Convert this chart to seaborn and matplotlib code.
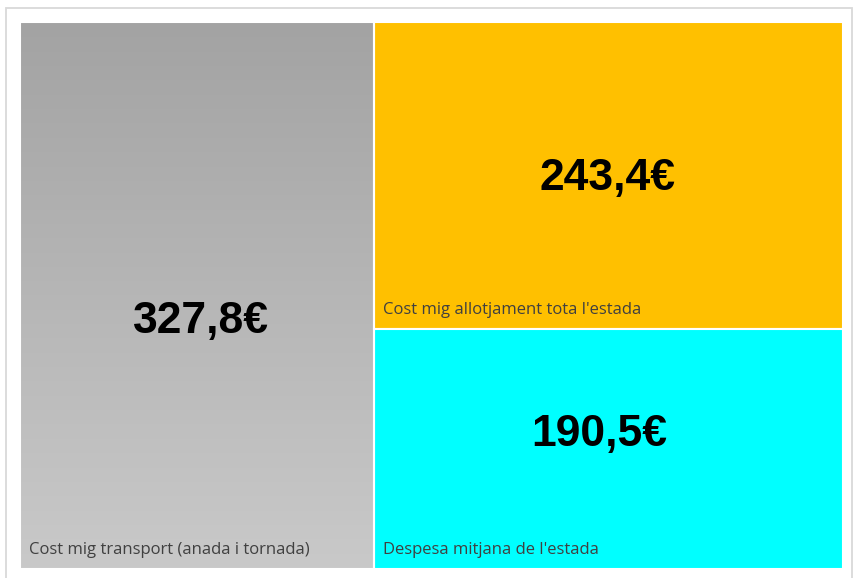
import numpy as np
import matplotlib
matplotlib.use('Agg')
import matplotlib.pyplot as plt
from matplotlib.patches import Rectangle
from matplotlib.colors import LinearSegmentedColormap
import seaborn as sns

# data
labels = ["Cost mig transport (anada i tornada)",
          "Cost mig allotjament tota l'estada",
          "Despesa mitjana de l'estada"]
values = [327.8, 243.4, 190.5]
value_text = ["327,8€", "243,4€", "190,5€"]

# style
fills = [None, "#ffc000", "#00ffff"]
value_ypos = [0.547, 0.51, 0.44]   # vertical position of the big number inside each tile
value_xpos = [0.51, 0.497, 0.48]

sns.set_theme(style="white")
plt.rcParams['font.family'] = ['Liberation Sans', 'DejaVu Sans']

fig = plt.figure(figsize=(8.56, 5.78), dpi=100)
fig.patches.append(Rectangle((6/856, -0.05), 846/856, 1 - 8/578 + 0.05, transform=fig.transFigure,
                             fill=False, edgecolor='#d9d9d9', lw=1.3))
ax = fig.add_axes([20/856, 9/578, 823/856, 547/578])

# slice-and-dice treemap: first value takes a column, the rest split the other column
total = sum(values)
w0 = values[0] / total
h1 = values[1] / (total - values[0])
rects = [(0, 0, w0, 1), (w0, 0, 1 - w0, h1), (w0, h1, 1 - w0, 1 - h1)]

gray = LinearSegmentedColormap.from_list("g", ["#a3a3a3", "#c9c9c9"])
for i, (x, y, w, h) in enumerate(rects):
    if fills[i] is None:
        patch = Rectangle((x, y), w, h, facecolor='none', edgecolor='white', lw=1.5, zorder=3)
        ax.add_patch(patch)
        grad = np.linspace(0, 1, 256).reshape(-1, 1)
        im = ax.imshow(grad, cmap=gray, extent=(x, x + w, y + h, y), aspect='auto', zorder=1)
        im.set_clip_path(patch)
    else:
        ax.add_patch(Rectangle((x, y), w, h, facecolor=fills[i], edgecolor='white', lw=1.5, zorder=2))
    ax.text(x + w * value_xpos[i], y + h * value_ypos[i], value_text[i], ha='center', va='center',
            fontsize=32, fontweight='bold', color='black', zorder=4)
    ax.annotate(labels[i], (x, y + h), xytext=(9, 19), textcoords='offset pixels',
                ha='left', va='center', fontsize=12, color='#404040',
                family=['Open Sans', 'DejaVu Sans'], zorder=4)

ax.set_xlim(0, 1)
ax.set_ylim(1, 0)
ax.axis('off')

fig.savefig('out.png', dpi=100)
